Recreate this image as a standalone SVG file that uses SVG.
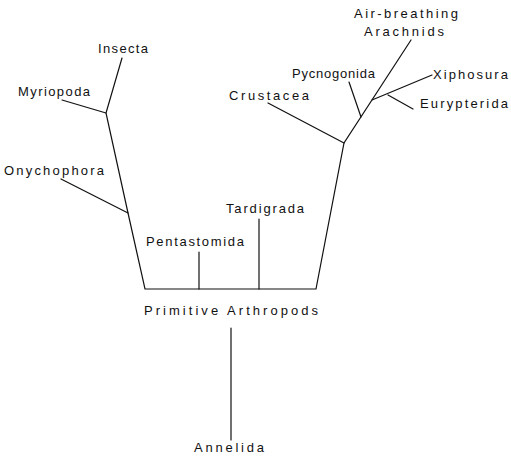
<svg xmlns="http://www.w3.org/2000/svg" width="511" height="457" viewBox="0 0 511 457">
<style>
text{font-family:"Liberation Sans","DejaVu Sans",sans-serif;font-size:13px;fill:#111;}
.c line,.c polyline{stroke:#111;stroke-width:1.2;fill:none;stroke-linecap:round;}
</style>
<rect width="511" height="457" fill="#fff"/>
<g class="c" id="connectors">
<polyline points="122,58 106,113 128,213 145,289 316,289 344,143 411,40"/>
<line x1="106" y1="113" x2="62" y2="100"/>
<line x1="128" y1="213" x2="61" y2="179"/>
<line x1="199" y1="289" x2="199" y2="252"/>
<line x1="259" y1="289" x2="259" y2="219"/>
<line x1="344" y1="143" x2="268" y2="103"/>
<line x1="361" y1="117" x2="349" y2="82"/>
<line x1="372" y1="100" x2="432" y2="75"/>
<line x1="388" y1="95" x2="413" y2="109"/>
<line x1="231" y1="328" x2="231" y2="440"/>
</g>
<g id="insecta"><text x="98" y="53" textLength="50" lengthAdjust="spacing">Insecta</text></g>
<g id="myriopoda"><text x="18" y="96" textLength="72" lengthAdjust="spacing">Myriopoda</text></g>
<g id="onychophora"><text x="4" y="175" textLength="100" lengthAdjust="spacing">Onychophora</text></g>
<g id="pentastomida"><text x="146" y="246" textLength="98" lengthAdjust="spacing">Pentastomida</text></g>
<g id="tardigrada"><text x="226" y="213" textLength="78" lengthAdjust="spacing">Tardigrada</text></g>
<g id="primitive-arthropods"><text x="144" y="315" textLength="174" lengthAdjust="spacing">Primitive  Arthropods</text></g>
<g id="annelida"><text x="194" y="452" textLength="70" lengthAdjust="spacing">Annelida</text></g>
<g id="crustacea"><text x="229" y="100" textLength="80" lengthAdjust="spacing">Crustacea</text></g>
<g id="pycnogonida"><text x="292" y="78" textLength="83" lengthAdjust="spacing">Pycnogonida</text></g>
<g id="arachnids"><text x="354" y="18" textLength="104" lengthAdjust="spacing">Air-breathing</text><text x="364" y="36" textLength="80" lengthAdjust="spacing">Arachnids</text></g>
<g id="xiphosura"><text x="433" y="79" textLength="75" lengthAdjust="spacing">Xiphosura</text></g>
<g id="eurypterida"><text x="420" y="108" textLength="88" lengthAdjust="spacing">Eurypterida</text></g>
</svg>
